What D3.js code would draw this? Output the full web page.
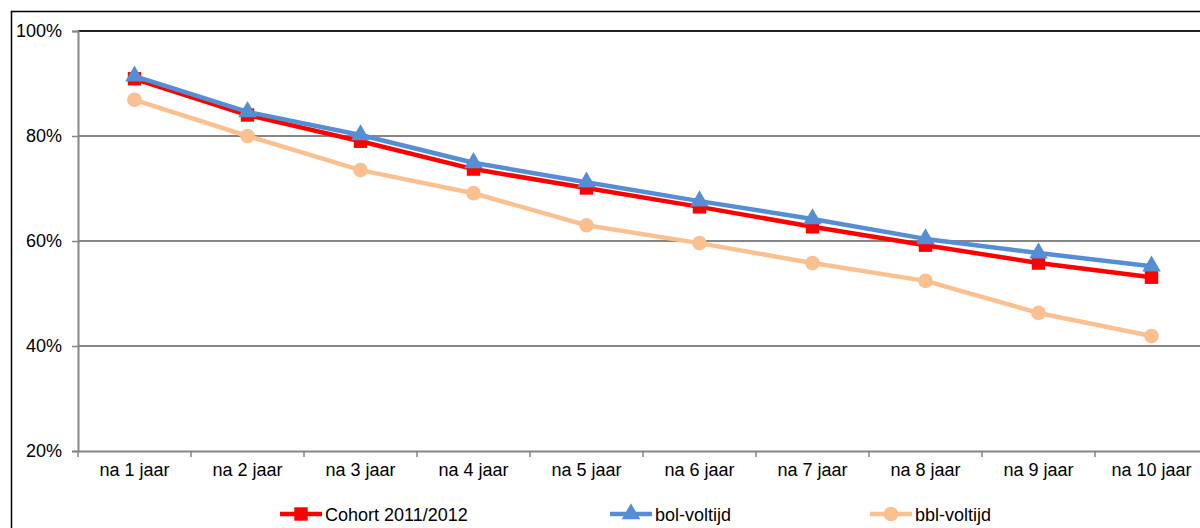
<!DOCTYPE html>
<html>
<head>
<meta charset="utf-8">
<script src="https://cdn.jsdelivr.net/npm/d3@7"></script>
<style>
  body { margin: 0; background: #fff; }
  text { font-family: "Liberation Sans", Arial, sans-serif; font-size: 18px; fill: #000; }
</style>
</head>
<body>
<div id="chart"></div>
<script>
const categories = ["na 1 jaar", "na 2 jaar", "na 3 jaar", "na 4 jaar", "na 5 jaar",
  "na 6 jaar", "na 7 jaar", "na 8 jaar", "na 9 jaar", "na 10 jaar"];
const cohort = [90.9, 84.0, 79.0, 73.7, 70.1, 66.5, 62.7, 59.2, 55.8, 53.1];
const bol = [91.4, 84.6, 80.2, 74.9, 71.2, 67.6, 64.2, 60.4, 57.7, 55.2];
const bbl = [86.9, 80.0, 73.5, 69.1, 63.0, 59.6, 55.8, 52.4, 46.3, 41.9];
const yTicks = [20, 40, 60, 80, 100];

const series = [
  { name: "Cohort 2011/2012", values: cohort, color: "#ff0000", symbol: d3.symbolSquare, size: 180 },
  { name: "bol-voltijd", values: bol, color: "#558ed5", symbol: d3.symbolTriangle, size: 150 },
  { name: "bbl-voltijd", values: bbl, color: "#fac090", symbol: d3.symbolCircle, size: 170 }
];
const drawOrder = [series[2], series[0], series[1]];

const width = 1200;
const height = 528;
const plot = { left: 78, top: 31, right: 1208, bottom: 451 };

const svg = d3.select("#chart")
  .append("svg")
  .attr("width", width)
  .attr("height", height);

// outer chart border
svg.append("rect")
  .attr("x", 11.5).attr("y", 11.5)
  .attr("width", 1300).attr("height", 600)
  .attr("fill", "none")
  .attr("stroke", "#000")
  .attr("stroke-width", 1.5);

const x = d3.scaleBand()
  .domain(categories)
  .range([plot.left, plot.right]);

const y = d3.scaleLinear()
  .domain([20, 100])
  .range([plot.bottom, plot.top]);

// gridlines
svg.append("g")
  .selectAll("line")
  .data(yTicks.filter(d => d > 20))
  .enter()
  .append("line")
  .attr("x1", plot.left).attr("x2", plot.right)
  .attr("y1", d => y(d)).attr("y2", d => y(d))
  .attr("stroke", d => d === 100 ? "#222" : "#868686")
  .attr("stroke-width", 2);

// y axis
const yAxis = svg.append("g")
  .attr("transform", `translate(${plot.left},0)`)
  .call(d3.axisLeft(y).tickValues(yTicks).tickFormat(d => d + "%").tickSize(6).tickPadding(10));
yAxis.select(".domain").attr("stroke", "#868686").attr("stroke-width", 2);
yAxis.selectAll(".tick line").attr("stroke", "#868686").attr("stroke-width", 1.5);
yAxis.selectAll("text").attr("font-size", 18).attr("font-family", "Liberation Sans, Arial, sans-serif").attr("fill", "#000");

// x axis
const xAxis = svg.append("g")
  .attr("transform", `translate(0,${plot.bottom})`)
  .call(d3.axisBottom(x).tickSize(0).tickPadding(12));
xAxis.select(".domain").attr("stroke", "#868686").attr("stroke-width", 2);
xAxis.selectAll("text").attr("font-size", 18).attr("font-family", "Liberation Sans, Arial, sans-serif").attr("fill", "#000");

// category boundary ticks
svg.append("g")
  .selectAll("line")
  .data(categories)
  .enter()
  .append("line")
  .attr("x1", d => x(d)).attr("x2", d => x(d))
  .attr("y1", plot.bottom).attr("y2", plot.bottom + 6)
  .attr("stroke", "#868686")
  .attr("stroke-width", 1.5);

const line = d3.line()
  .x((d, i) => x(categories[i]) + x.bandwidth() / 2)
  .y(d => y(d));

drawOrder.forEach(s => {
  const g = svg.append("g");
  g.append("path")
    .attr("d", line(s.values))
    .attr("fill", "none")
    .attr("stroke", s.color)
    .attr("stroke-width", 4.5)
    .attr("stroke-linejoin", "round");
  g.selectAll("path.marker")
    .data(s.values)
    .enter()
    .append("path")
    .attr("class", "marker")
    .attr("d", d3.symbol().type(s.symbol).size(s.size))
    .attr("transform", (d, i) => `translate(${x(categories[i]) + x.bandwidth() / 2},${y(d)})`)
    .attr("fill", s.color);
});

// legend
const legendX = [280, 610, 870];
const legendY = 514;
series.forEach((s, i) => {
  const g = svg.append("g").attr("transform", `translate(${legendX[i]},${legendY})`);
  g.append("line")
    .attr("x1", 0).attr("x2", 42)
    .attr("stroke", s.color)
    .attr("stroke-width", 4.5);
  g.append("path")
    .attr("d", d3.symbol().type(s.symbol).size(s.size))
    .attr("transform", "translate(21,0)")
    .attr("fill", s.color);
  g.append("text")
    .attr("x", 45)
    .attr("y", 6.5)
    .text(s.name);
});
</script>
</body>
</html>
